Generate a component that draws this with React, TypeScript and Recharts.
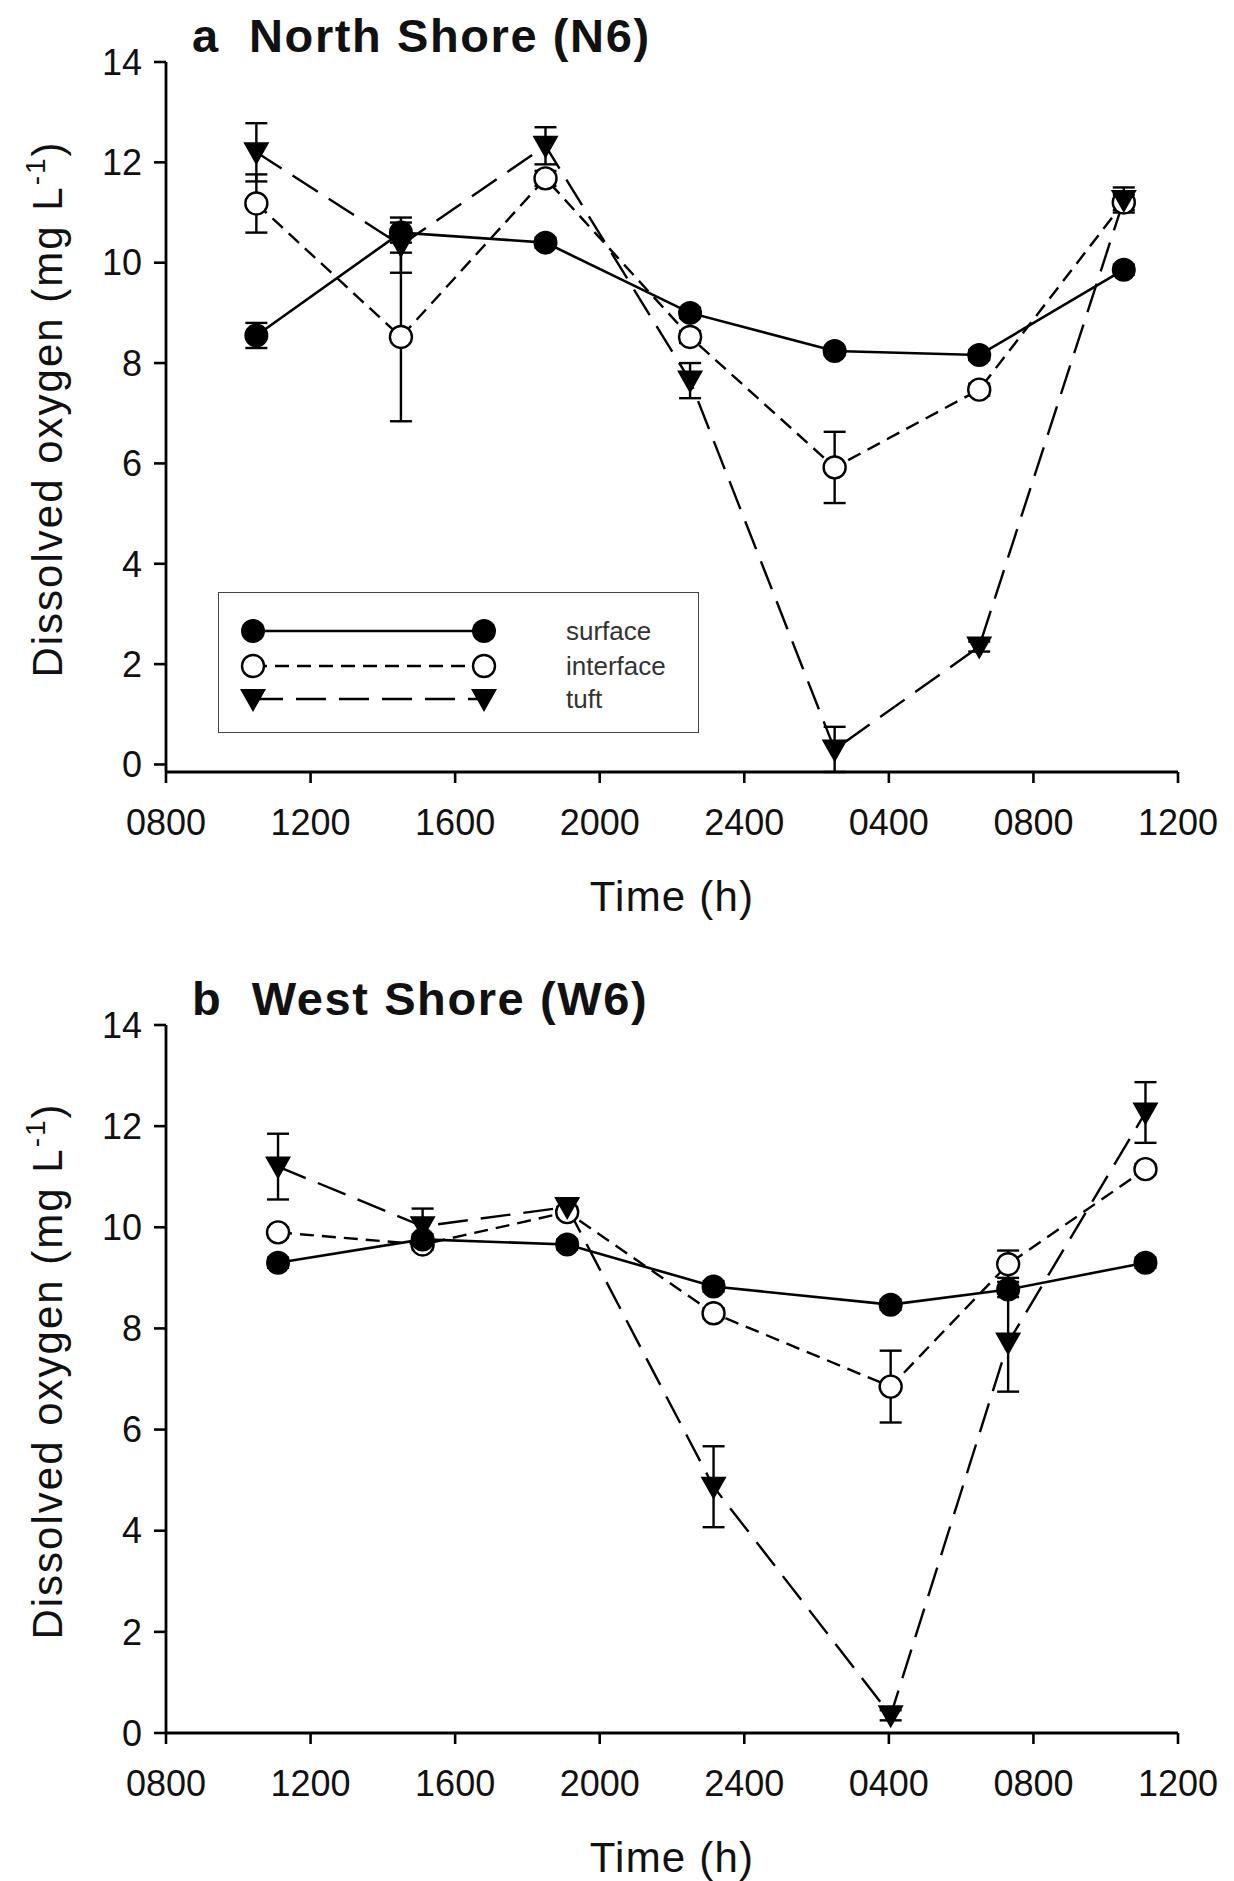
import React from 'react';
import { LineChart, Line, XAxis, YAxis, ErrorBar } from 'recharts';

// ---- axis ticks ----
const tickHours = [8, 12, 16, 20, 24, 28, 32, 36];
const tickLabels = ['0800', '1200', '1600', '2000', '2400', '0400', '0800', '1200'];
const yTicks = [0, 2, 4, 6, 8, 10, 12, 14];

// ---- panel a: North Shore (N6) ----
const timesA = [10.5, 14.5, 18.5, 22.5, 26.5, 30.5, 34.5];
const surfaceA = [8.55, 10.6, 10.4, 9.0, 8.24, 8.16, 9.86];
const surfaceErrA = [0.25, 0.2, 0.1, 0.1, 0.08, 0.1, 0.1];
const interfaceA = [11.18, 8.52, 11.68, 8.52, 5.92, 7.47, 11.2];
const interfaceErrA = [0.58, 1.68, 0.15, 0.12, 0.71, 0.12, 0.15];
const tuftA = [12.2, 10.35, 12.33, 7.65, 0.3, 2.35, 11.25];
const tuftErrA = [0.58, 0.55, 0.37, 0.35, 0.45, 0.1, 0.25];

// ---- panel b: West Shore (W6) ----
const timesB = [11.1, 15.1, 19.1, 23.15, 28.05, 31.3, 35.1];
const surfaceB = [9.3, 9.76, 9.66, 8.83, 8.47, 8.77, 9.3];
const surfaceErrB = [0.1, 0.1, 0.1, 0.1, 0.1, 0.15, 0.1];
const interfaceB = [9.9, 9.66, 10.3, 8.3, 6.85, 9.27, 11.15];
const interfaceErrB = [0.1, 0.1, 0.1, 0.1, 0.71, 0.27, 0.1];
const tuftB = [11.2, 10.02, 10.4, 4.87, 0.35, 7.72, 12.27];
const tuftErrB = [0.65, 0.35, 0.15, 0.8, 0.1, 0.97, 0.6];

const seriesNames = ['surface', 'interface', 'tuft'];

function build(times: number[], s: number[], sE: number[], i: number[], iE: number[], t: number[], tE: number[]) {
  return times.map((x, k) => ({
    t: x,
    surface: s[k],
    surfaceErr: sE[k],
    interface: i[k],
    interfaceErr: iE[k],
    tuft: t[k],
    tuftErr: tE[k],
  }));
}

const dataA = build(timesA, surfaceA, surfaceErrA, interfaceA, interfaceErrA, tuftA, tuftErrA);
const dataB = build(timesB, surfaceB, surfaceErrB, interfaceB, interfaceErrB, tuftB, tuftErrB);

const FONT = '"Liberation Sans", Arial, Helvetica, sans-serif';

const R_FILL = 12;
const R_OPEN = 11;
const CAP = 11;
const triPath = (cx: number, cy: number) =>
  `M${cx - 13},${cy - 10} L${cx + 13},${cy - 10} L${cx},${cy + 13} Z`;

const FilledDot = (p: any) =>
  p.cx == null ? null : <circle key={`f${p.index}`} cx={p.cx} cy={p.cy} r={R_FILL} fill="#000" />;
const OpenDot = (p: any) =>
  p.cx == null ? null : (
    <circle key={`o${p.index}`} cx={p.cx} cy={p.cy} r={R_OPEN} fill="#fff" stroke="#000" strokeWidth={2.4} />
  );
const TriDot = (p: any) =>
  p.cx == null ? null : <path key={`t${p.index}`} d={triPath(p.cx, p.cy)} fill="#000" />;

const tickFmt = (v: number) => {
  const k = tickHours.indexOf(v);
  return k >= 0 ? tickLabels[k] : '';
};

function XTitle(props: any) {
  const vb = props.viewBox || {};
  return (
    <text
      x={vb.x + vb.width / 2}
      y={vb.y + 139}
      textAnchor="middle"
      fontSize={42}
      fontFamily={FONT}
      letterSpacing={1.2}
      fill="#111"
    >
      Time (h)
    </text>
  );
}

function YTitle(props: any) {
  const vb = props.viewBox || {};
  const cy = vb.y + vb.height / 2 - 8;
  return (
    <text
      transform={`translate(62, ${cy}) rotate(-90)`}
      textAnchor="middle"
      fontSize={42}
      fontFamily={FONT}
      letterSpacing={2}
      fill="#111"
    >
      Dissolved oxygen (mg L
      <tspan dy={-17} fontSize={28}>-1</tspan>
      <tspan dy={17}>)</tspan>
    </text>
  );
}

function Panel(props: { data: any[]; top: number; height: number; marginTop: number; marginBottom: number; title: string }) {
  const { data, top, height, marginTop, marginBottom, title } = props;
  return (
    <div style={{ position: 'absolute', left: 0, top, width: 1234, height }}>
      <div
        style={{
          position: 'absolute',
          left: 192,
          top: marginTop - 50,
          fontFamily: FONT,
          fontWeight: 'bold',
          fontSize: 47,
          lineHeight: '47px',
          letterSpacing: 1.6,
          color: '#111',
          whiteSpace: 'pre',
        }}
      >
        {title}
      </div>
      <LineChart
        width={1234}
        height={height}
        data={data}
        margin={{ top: marginTop, right: 56, bottom: marginBottom, left: 0 }}
      >
        <XAxis
          type="number"
          dataKey="t"
          domain={[8, 36]}
          ticks={tickHours}
          tickFormatter={tickFmt}
          interval={0}
          height={140}
          axisLine={{ stroke: '#000', strokeWidth: 2.8 }}
          tickLine={{ stroke: '#000', strokeWidth: 2.6 }}
          tickSize={11}
          tickMargin={26}
          tick={{ fontSize: 36, fill: '#111', fontFamily: FONT }}
          label={<XTitle />}
        />
        <YAxis
          type="number"
          domain={[0, 14]}
          ticks={yTicks}
          interval={0}
          width={166}
          axisLine={{ stroke: '#000', strokeWidth: 2.8 }}
          tickLine={{ stroke: '#000', strokeWidth: 2.6 }}
          tickSize={12}
          tickMargin={12}
          tick={{ fontSize: 36, fill: '#111', fontFamily: FONT }}
          label={<YTitle />}
        />
        <Line
          name={seriesNames[1]}
          dataKey="interface"
          stroke="#000"
          strokeWidth={2.4}
          strokeDasharray="14 8"
          dot={OpenDot}
          activeDot={false}
          isAnimationActive={false}
        >
          <ErrorBar dataKey="interfaceErr" width={CAP} stroke="#000" strokeWidth={2.4} direction="y" />
        </Line>
        <Line
          name={seriesNames[2]}
          dataKey="tuft"
          stroke="#000"
          strokeWidth={2.4}
          strokeDasharray="30 13"
          dot={TriDot}
          activeDot={false}
          isAnimationActive={false}
        >
          <ErrorBar dataKey="tuftErr" width={CAP} stroke="#000" strokeWidth={2.4} direction="y" />
        </Line>
        <Line
          name={seriesNames[0]}
          dataKey="surface"
          stroke="#000"
          strokeWidth={2.6}
          dot={FilledDot}
          activeDot={false}
          isAnimationActive={false}
        >
          <ErrorBar dataKey="surfaceErr" width={CAP} stroke="#000" strokeWidth={2.4} direction="y" />
        </Line>
      </LineChart>
    </div>
  );
}

function LegendBox() {
  const rows = [
    { name: seriesNames[0], y: 38, dash: undefined as string | undefined, marker: 'filled' },
    { name: seriesNames[1], y: 73, dash: '14 8', marker: 'open' },
    { name: seriesNames[2], y: 106, dash: '30 13', marker: 'tri' },
  ];
  const x1 = 34;
  const x2 = 265;
  const mk = (m: string, cx: number, cy: number, key: string) =>
    m === 'filled' ? (
      <circle key={key} cx={cx} cy={cy} r={R_FILL} fill="#000" />
    ) : m === 'open' ? (
      <circle key={key} cx={cx} cy={cy} r={R_OPEN} fill="#fff" stroke="#000" strokeWidth={2.4} />
    ) : (
      <path key={key} d={triPath(cx, cy)} fill="#000" />
    );
  return (
    <div
      style={{
        position: 'absolute',
        left: 218,
        top: 592,
        width: 479,
        height: 139,
        border: '1.6px solid #444',
        background: '#fff',
      }}
    >
      <svg width={479} height={139} style={{ position: 'absolute', left: 0, top: 0 }}>
        {rows.map((r) => (
          <g key={r.name}>
            <line x1={x1} y1={r.y} x2={x2} y2={r.y} stroke="#000" strokeWidth={2.4} strokeDasharray={r.dash} />
            {mk(r.marker, x1, r.y, r.name + 'a')}
            {mk(r.marker, x2, r.y, r.name + 'b')}
            <text x={347} y={r.y + 9} fontSize={26} fontFamily={FONT} fill="#333">
              {r.name}
            </text>
          </g>
        ))}
      </svg>
    </div>
  );
}

export default function App() {
  return (
    <div style={{ position: 'absolute', left: 0, top: 0, width: 1234, height: 1881, background: '#fff' }}>
      <Panel data={dataA} top={0} height={940} marginTop={62} marginBottom={28} title="a  North Shore (N6)" />
      <LegendBox />
      <Panel data={dataB} top={940} height={941} marginTop={85} marginBottom={8} title="b  West Shore (W6)" />
    </div>
  );
}
